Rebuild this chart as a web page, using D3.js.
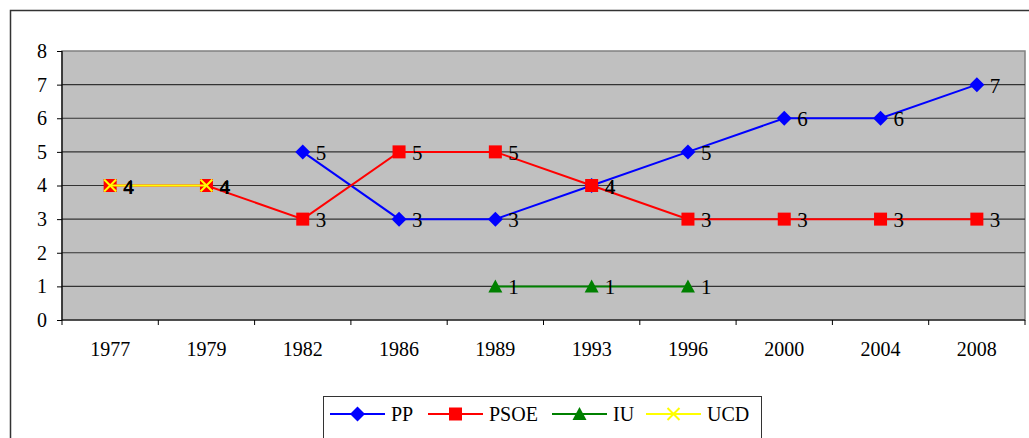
<!DOCTYPE html>
<html>
<head>
<meta charset="utf-8">
<script src="https://cdn.jsdelivr.net/npm/d3@7"></script>
<style>
  body { margin: 0; background: #fff; }
  #chart text { font-family: "Liberation Serif"; }
  #chart text.ucd { font-family: "Liberation Sans"; font-weight: bold; }
</style>
</head>
<body style="margin:0">
<svg id="chart" width="1029" height="438" font-family="Liberation Serif"></svg>
<script>
// chart values
const years = ["1977", "1979", "1982", "1986", "1989", "1993", "1996", "2000", "2004", "2008"];
const pp = [null, null, 5, 3, 3, 4, 5, 6, 6, 7];
const psoe = [4, 4, 3, 5, 5, 4, 3, 3, 3, 3];
const iu = [null, null, null, null, 1, 1, 1, null, null, null];
const ucd = [4, 4, null, null, null, null, null, null, null, null];
const yTicks = [0, 1, 2, 3, 4, 5, 6, 7, 8];

const W = 1029, H = 438;
const plot = {left: 62, right: 1025, top: 51, bottom: 320};

const svg = d3.select("#chart");

// outer chart frame (runs off the right / bottom)
svg.append("path")
    .attr("d", "M10.5," + H + " V10.5 H" + W)
    .attr("fill", "none")
    .attr("stroke", "#333")
    .attr("stroke-width", 1.5);

var x = d3.scaleBand().domain(years).range([plot.left, plot.right]);
var y = d3.scaleLinear().domain([0, 8]).range([plot.bottom, plot.top]);
function cx(i) { return x(years[i]) + x.bandwidth() / 2; }

// plot area
svg.append("rect")
    .attr("x", plot.left)
    .attr("y", plot.top)
    .attr("width", plot.right - plot.left)
    .attr("height", plot.bottom - plot.top)
    .attr("fill", "#c0c0c0")
    .attr("stroke", "#808080")
    .attr("stroke-width", 1.5);

svg.selectAll(".grid")
    .data(yTicks.slice(1, -1))
    .enter().append("line")
    .attr("x1", plot.left).attr("x2", plot.right)
    .attr("y1", d => y(d)).attr("y2", d => y(d))
    .attr("stroke", "#333")
    .attr("stroke-width", 1.2);

// y axis
var yAxis = svg.append("g")
    .attr("transform", "translate(" + plot.left + ",0)")
    .call(d3.axisLeft(y).tickValues(yTicks).tickSize(5).tickPadding(10).tickFormat(d3.format("d")));
yAxis.attr("font-family", "Liberation Serif").attr("font-size", 20);
yAxis.select(".domain").attr("d", "M0," + plot.top + "V" + plot.bottom).attr("stroke", "#000").attr("stroke-width", 1.2);
yAxis.selectAll(".tick line").attr("stroke", "#000");
yAxis.selectAll("text").attr("fill", "#000");

// x axis: ticks sit on category boundaries
var xAxis = svg.append("g")
    .attr("transform", "translate(0," + plot.bottom + ")")
    .call(d3.axisBottom(x).tickSize(0).tickPadding(22));
xAxis.attr("font-family", "Liberation Serif").attr("font-size", 20);
xAxis.select(".domain").attr("d", "M" + plot.left + ",0H" + plot.right).attr("stroke", "#000").attr("stroke-width", 1.2);
xAxis.selectAll("text").attr("fill", "#000");
xAxis.selectAll(".bound")
    .data(d3.range(years.length + 1))
    .enter().append("line")
    .attr("x1", i => plot.left + i * x.step()).attr("x2", i => plot.left + i * x.step())
    .attr("y1", 0).attr("y2", 5)
    .attr("stroke", "#000");

// series
const series = [
    {name: "PP", values: pp, color: "#0000ff", marker: "diamond"},
    {name: "PSOE", values: psoe, color: "#ff0000", marker: "square"},
    {name: "IU", values: iu, color: "#008000", marker: "triangle"},
    {name: "UCD", values: ucd, color: "#ffff00", marker: "cross"}
];

function drawMarker(g, type, color) {
    if (type == "diamond") {
        g.append("path").attr("d", "M0,-7.5L7.5,0L0,7.5L-7.5,0Z").attr("fill", color);
    } else if (type == "square") {
        g.append("rect").attr("x", -6.5).attr("y", -6.5).attr("width", 13).attr("height", 13).attr("fill", color);
    } else if (type == "triangle") {
        g.append("path").attr("d", "M0,-7L7,6L-7,6Z").attr("fill", color);
    } else {
        g.append("path").attr("d", "M-6,-6L6,6M6,-6L-6,6").attr("stroke", color).attr("stroke-width", 2);
    }
}

var line = d3.line()
    .defined(d => d.v != null)
    .x(d => cx(d.i))
    .y(d => y(d.v));

series.forEach(function(s) {
    var pts = s.values.map((v, i) => ({v: v, i: i}));
    svg.append("path")
        .datum(pts)
        .attr("d", line)
        .attr("fill", "none")
        .attr("stroke", s.color)
        .attr("stroke-width", 2);

    pts.filter(d => d.v != null).forEach(function(d) {
        var g = svg.append("g").attr("transform", "translate(" + cx(d.i) + "," + y(d.v) + ")");
        drawMarker(g, s.marker, s.color);
    });
});

// data labels on top of everything
series.forEach(function(s) {
    var isUcd = s.name == "UCD";
    svg.selectAll(".lbl-" + s.name)
        .data(s.values.map((v, i) => ({v: v, i: i})).filter(d => d.v != null))
        .enter().append("text")
        .attr("class", isUcd ? "ucd" : "lbl")
        .attr("x", d => cx(d.i) + 13)
        .attr("y", d => y(d.v) + 8)
        .attr("font-family", isUcd ? "Liberation Sans" : "Liberation Serif")
        .attr("font-weight", isUcd ? "bold" : "normal")
        .attr("font-size", isUcd ? 19 : 21)
        .attr("fill", "#000")
        .text(d => d.v);
});

// legend
var legend = svg.append("g");
legend.append("rect")
    .attr("x", 323.5).attr("y", 396.5)
    .attr("width", 438).attr("height", 60)
    .attr("fill", "#fff")
    .attr("stroke", "#333")
    .attr("stroke-width", 1);

const legendX = [330, 428, 552, 646];
series.forEach(function(s, k) {
    var lx = legendX[k], ly = 414;
    legend.append("line")
        .attr("x1", lx).attr("x2", lx + 55)
        .attr("y1", ly).attr("y2", ly)
        .attr("stroke", s.color).attr("stroke-width", 2);
    var g = legend.append("g").attr("transform", "translate(" + (lx + 27.5) + "," + ly + ")");
    drawMarker(g, s.marker, s.color);
    legend.append("text")
        .attr("x", lx + 61).attr("y", ly + 7)
        .attr("font-family", "Liberation Serif")
        .attr("font-size", 20)
        .attr("fill", "#000")
        .text(s.name);
});
</script>
</body>
</html>
